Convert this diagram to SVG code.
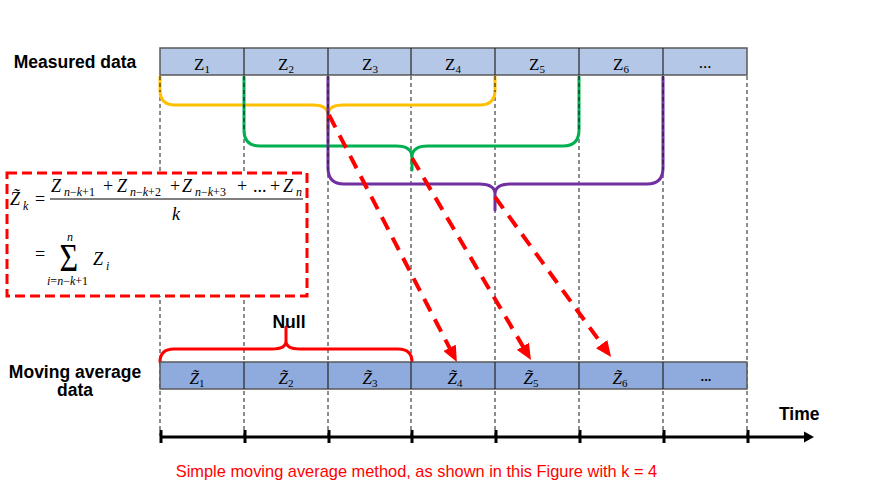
<svg xmlns="http://www.w3.org/2000/svg" width="875" height="491" viewBox="0 0 875 491">
<style>
.lbl{font-family:"Liberation Sans",Arial,sans-serif;font-weight:bold;font-size:17.5px;fill:#000}
.cap{font-family:"Liberation Sans",Arial,sans-serif;font-size:16.4px;fill:#FF0000}
.zt{font-family:"Liberation Serif","Times New Roman",serif;font-size:17px;fill:#000}
.zi{font-family:"Liberation Serif","Times New Roman",serif;font-style:italic;font-size:17px;fill:#000}
.sb{font-size:11px}
.m{font-family:"Liberation Serif","Times New Roman",serif;font-size:18px;fill:#000}
.mi{font-family:"Liberation Serif","Times New Roman",serif;font-style:italic;font-size:18px;fill:#000}
.ms{font-family:"Liberation Serif","Times New Roman",serif;font-size:12px;fill:#000}
.sig{font-family:"Liberation Serif","Times New Roman",serif;font-size:39px;fill:#000}
.it{font-style:italic}
.top{fill:#B4C7E7;stroke:#595959;stroke-width:1.5}
.bot{fill:#8FAADC;stroke:#595959;stroke-width:1.5}
.div{stroke:#262626;stroke-width:1.2}
.guide{stroke:#1a1a1a;stroke-width:1;stroke-dasharray:4 3}
.brace{fill:none;stroke-width:3;stroke-linecap:round}
.arr{fill:none;stroke:#FF0000;stroke-width:4;stroke-dasharray:14 9}
.axis{stroke:#000;stroke-width:3}
</style>
<defs>
<marker id="ah" markerUnits="userSpaceOnUse" viewBox="0 -7 16 14" markerWidth="16" markerHeight="14" refX="4" refY="0" orient="auto">
<path d="M0,-7 L16,0 L0,7 Z" fill="#FF0000"/>
</marker>
</defs>

<g id="connectors">
<g id="guides">
<line class="guide" x1="160" y1="76" x2="160" y2="436"/>
<line class="guide" x1="244" y1="76" x2="244" y2="436"/>
<line class="guide" x1="328" y1="76" x2="328" y2="436"/>
<line class="guide" x1="411" y1="76" x2="411" y2="436"/>
<line class="guide" x1="495" y1="76" x2="495" y2="436"/>
<line class="guide" x1="579" y1="76" x2="579" y2="436"/>
<line class="guide" x1="663" y1="76" x2="663" y2="436"/>
<line class="guide" x1="747" y1="76" x2="747" y2="436"/>
</g>
<path id="brace-yellow" class="brace" stroke="#FFC000" d="M160,77 L160,90 Q160,105 175,105 L313,105 Q328,105 328,115 L328,130 M328,115 Q328,105 343,105 L480,105 Q495,105 495,90 L495,77"/>
<path id="brace-green" class="brace" stroke="#00B050" d="M244,77 L244,130 Q244,146 260,146 L396,146 Q412,146 412,157 L412,170 M412,157 Q412,146 428,146 L563,146 Q579,146 579,130 L579,77"/>
<path id="brace-purple" class="brace" stroke="#7030A0" d="M328,77 L328,168 Q328,184 344,184 L479,184 Q495,184 495,194 L495,210 M495,194 Q495,184 511,184 L647,184 Q663,184 663,168 L663,77"/>
<g id="guides-over">
<line class="guide" x1="160" y1="76" x2="160" y2="92"/>
<line class="guide" x1="244" y1="76" x2="244" y2="132"/>
<line class="guide" x1="328" y1="76" x2="328" y2="170"/>
<line class="guide" x1="495" y1="76" x2="495" y2="92"/>
<line class="guide" x1="579" y1="76" x2="579" y2="132"/>
<line class="guide" x1="663" y1="76" x2="663" y2="170"/>
</g>
<path id="brace-red" class="brace" stroke="#FF0000" d="M160,362 Q160,349 174,349 L272,349 Q286,349 286,341 L286,327 M286,341 Q286,349 300,349 L398,349 Q412,349 412,362"/>
<line class="arr" x1="329" y1="115" x2="451.4" y2="351.4" marker-end="url(#ah)"/>
<line class="arr" x1="412" y1="158" x2="524.9" y2="349.7" marker-end="url(#ah)"/>
<line class="arr" x1="495" y1="197" x2="604" y2="347.3" marker-end="url(#ah)"/>
<g id="time-axis">
<line class="axis" x1="160" y1="437" x2="806" y2="437"/>
<path d="M804,431.5 L814,437 L804,442.5 Z" fill="#000"/>
<line class="axis" x1="161" y1="430" x2="161" y2="443"/>
<line class="axis" x1="245" y1="430" x2="245" y2="443"/>
<line class="axis" x1="329" y1="430" x2="329" y2="443"/>
<line class="axis" x1="412" y1="430" x2="412" y2="443"/>
<line class="axis" x1="496" y1="430" x2="496" y2="443"/>
<line class="axis" x1="580" y1="430" x2="580" y2="443"/>
<line class="axis" x1="664" y1="430" x2="664" y2="443"/>
<line class="axis" x1="748" y1="430" x2="748" y2="443"/>
</g>
</g>

<g id="measured-row">
<rect class="top" x="160" y="48" width="587" height="27"/>
<line class="div" x1="244" y1="48" x2="244" y2="75"/>
<line class="div" x1="328" y1="48" x2="328" y2="75"/>
<line class="div" x1="411" y1="48" x2="411" y2="75"/>
<line class="div" x1="495" y1="48" x2="495" y2="75"/>
<line class="div" x1="579" y1="48" x2="579" y2="75"/>
<line class="div" x1="663" y1="48" x2="663" y2="75"/>
<text class="zt" x="202" y="70" text-anchor="middle">Z<tspan class="sb" dy="3">1</tspan></text>
<text class="zt" x="286" y="70" text-anchor="middle">Z<tspan class="sb" dy="3">2</tspan></text>
<text class="zt" x="370" y="70" text-anchor="middle">Z<tspan class="sb" dy="3">3</tspan></text>
<text class="zt" x="453" y="70" text-anchor="middle">Z<tspan class="sb" dy="3">4</tspan></text>
<text class="zt" x="537" y="70" text-anchor="middle">Z<tspan class="sb" dy="3">5</tspan></text>
<text class="zt" x="621" y="70" text-anchor="middle">Z<tspan class="sb" dy="3">6</tspan></text>
<text class="zt" x="705" y="68" text-anchor="middle">...</text>
</g>

<g id="moving-row">
<rect class="bot" x="160" y="362" width="587" height="27"/>
<line class="div" x1="244" y1="362" x2="244" y2="389"/>
<line class="div" x1="328" y1="362" x2="328" y2="389"/>
<line class="div" x1="411" y1="362" x2="411" y2="389"/>
<line class="div" x1="495" y1="362" x2="495" y2="389"/>
<line class="div" x1="579" y1="362" x2="579" y2="389"/>
<line class="div" x1="663" y1="362" x2="663" y2="389"/>
<text class="zi" x="197" y="384" text-anchor="middle">Z̃<tspan class="sb" font-style="normal" dy="3">1</tspan></text>
<text class="zi" x="286" y="384" text-anchor="middle">Z̃<tspan class="sb" font-style="normal" dy="3">2</tspan></text>
<text class="zi" x="370" y="384" text-anchor="middle">Z̃<tspan class="sb" font-style="normal" dy="3">3</tspan></text>
<text class="zi" x="455" y="384" text-anchor="middle">Z̃<tspan class="sb" font-style="normal" dy="3">4</tspan></text>
<text class="zi" x="531" y="384" text-anchor="middle">Z̃<tspan class="sb" font-style="normal" dy="3">5</tspan></text>
<text class="zi" x="620" y="384" text-anchor="middle">Z̃<tspan class="sb" font-style="normal" dy="3">6</tspan></text>
<text class="lbl" x="706" y="381" text-anchor="middle" style="font-size:13px">...</text>
</g>

<g id="formula">
<rect x="7" y="173" width="300" height="123" fill="#FFFFFF" stroke="#FF0000" stroke-width="3" stroke-dasharray="10 5"/>
<text class="mi" x="10" y="205">Z̃</text>
<text class="ms it" x="23" y="210">k</text>
<text class="m" x="35" y="205">=</text>
<text class="mi" x="51" y="192">Z</text>
<text class="ms" x="64" y="196"><tspan class="it">n</tspan>−<tspan class="it">k</tspan>+1</text>
<text class="m" x="103" y="192">+</text>
<text class="mi" x="117" y="192">Z</text>
<text class="ms" x="130" y="196"><tspan class="it">n</tspan>−<tspan class="it">k</tspan>+2</text>
<text class="m" x="170" y="192">+</text>
<text class="mi" x="182" y="192">Z</text>
<text class="ms" x="195" y="196"><tspan class="it">n</tspan>−<tspan class="it">k</tspan>+3</text>
<text class="m" x="237" y="192">+</text>
<text class="m" x="253" y="192">...</text>
<text class="m" x="270" y="192">+</text>
<text class="mi" x="283" y="192">Z</text>
<text class="ms it" x="296" y="196">n</text>
<line x1="50" y1="199" x2="303" y2="199" stroke="#000" stroke-width="1"/>
<text class="mi" x="172" y="220">k</text>
<text class="m" x="35" y="260">=</text>
<text class="sig" transform="translate(59.5,271) scale(0.82,1)">Σ</text>
<text class="ms it" x="67" y="241">n</text>
<text class="ms" x="47" y="285"><tspan class="it">i</tspan>=<tspan class="it">n</tspan>−<tspan class="it">k</tspan>+1</text>
<text class="mi" x="93" y="265">Z</text>
<text class="ms it" x="106" y="270">i</text>
</g>

<g id="labels">
<text class="lbl" x="75" y="68" text-anchor="middle">Measured data</text>
<text class="lbl" x="75" y="378" text-anchor="middle">Moving average</text>
<text class="lbl" x="75" y="396" text-anchor="middle">data</text>
<text class="lbl" x="289" y="328" text-anchor="middle">Null</text>
<text class="lbl" x="779" y="420">Time</text>
<text class="cap" x="416.5" y="477" text-anchor="middle">Simple moving average method, as shown in this Figure with k = 4</text>
</g>
</svg>
